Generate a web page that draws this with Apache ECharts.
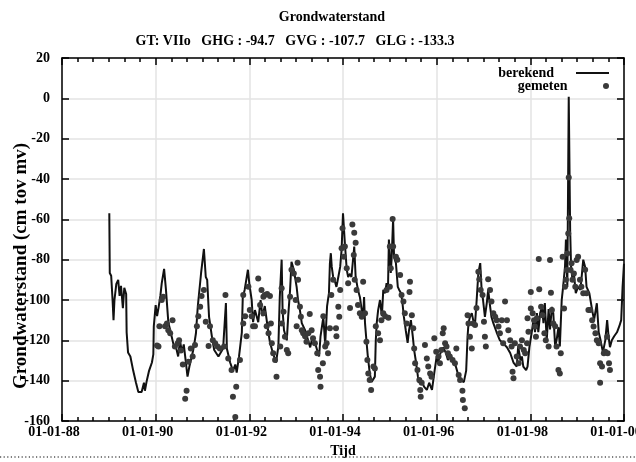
<!DOCTYPE html>
<html>
<head>
<meta charset="utf-8">
<script src="https://cdn.jsdelivr.net/npm/echarts@6/dist/echarts.min.js"></script>
<style>
html, body { margin: 0; padding: 0; background: #fff; }
#chart { width: 636px; height: 462px; }
</style>
</head>
<body>
<div id="chart"></div>
<script>
// berekend: tijd in decimale jaren, stand in cm tov mv
const berekendTijd = [
  1989.01, 1989.02, 1989.05, 1989.08, 1989.10, 1989.12, 1989.16, 1989.20, 1989.23, 1989.26,
  1989.30, 1989.33, 1989.37, 1989.38, 1989.41, 1989.46, 1989.52, 1989.58, 1989.63, 1989.70,
  1989.75, 1989.77, 1989.81, 1989.86, 1989.92, 1989.95, 1989.96, 1990.00, 1990.03, 1990.06,
  1990.10, 1990.13, 1990.18, 1990.22, 1990.27, 1990.34, 1990.38, 1990.43, 1990.48, 1990.52,
  1990.56, 1990.60, 1990.63, 1990.68, 1990.72, 1990.80, 1990.83, 1990.86, 1990.90, 1990.97,
  1991.03, 1991.07, 1991.10, 1991.14, 1991.20, 1991.25, 1991.34, 1991.44, 1991.50, 1991.52,
  1991.59, 1991.65, 1991.70, 1991.73, 1991.78, 1991.84, 1991.86, 1991.90, 1991.97, 1992.00,
  1992.05, 1992.08, 1992.12, 1992.19, 1992.24, 1992.28, 1992.33, 1992.40, 1992.44, 1992.50,
  1992.57, 1992.62, 1992.65, 1992.69, 1992.71, 1992.74, 1992.80, 1992.83, 1992.87, 1992.90,
  1992.95, 1993.01, 1993.04, 1993.08, 1993.12, 1993.19, 1993.23, 1993.30, 1993.35, 1993.40,
  1993.45, 1993.49, 1993.52, 1993.58, 1993.62, 1993.66, 1993.70, 1993.72, 1993.74, 1993.76,
  1993.79, 1993.83, 1993.86, 1993.90, 1993.94, 1993.97, 1994.00, 1994.04, 1994.08, 1994.11,
  1994.15, 1994.18, 1994.24, 1994.27, 1994.32, 1994.36, 1994.40, 1994.43, 1994.45, 1994.47,
  1994.50, 1994.53, 1994.57, 1994.61, 1994.64, 1994.68, 1994.70, 1994.72, 1994.75, 1994.79,
  1994.83, 1994.86, 1994.90, 1994.93, 1994.96, 1994.98, 1995.02, 1995.04, 1995.07, 1995.09,
  1995.13, 1995.17, 1995.20, 1995.24, 1995.27, 1995.30, 1995.34, 1995.38, 1995.41, 1995.45,
  1995.49, 1995.52, 1995.56, 1995.60, 1995.62, 1995.68, 1995.73, 1995.79, 1995.84, 1995.90,
  1995.95, 1996.00, 1996.03, 1996.08, 1996.14, 1996.20, 1996.24, 1996.30, 1996.35, 1996.41,
  1996.47, 1996.53, 1996.58, 1996.63, 1996.66, 1996.68, 1996.71, 1996.75, 1996.78, 1996.82,
  1996.85, 1996.89, 1996.93, 1996.96, 1996.99, 1997.03, 1997.07, 1997.10, 1997.14, 1997.17,
  1997.21, 1997.28, 1997.35, 1997.42, 1997.50, 1997.57, 1997.64, 1997.71, 1997.74, 1997.79,
  1997.82, 1997.85, 1997.91, 1997.94, 1997.98, 1998.03, 1998.07, 1998.10, 1998.14, 1998.17,
  1998.21, 1998.25, 1998.28, 1998.31, 1998.35, 1998.39, 1998.42, 1998.46, 1998.49, 1998.53,
  1998.56, 1998.60, 1998.63, 1998.67, 1998.70, 1998.74, 1998.76, 1998.79, 1998.82, 1998.85,
  1998.87, 1998.90, 1998.93, 1998.97, 1999.02, 1999.07, 1999.13, 1999.17, 1999.20, 1999.26,
  1999.32, 1999.36, 1999.42, 1999.46, 1999.50, 1999.55, 1999.60, 1999.64, 1999.67, 1999.70,
  1999.74, 1999.79, 1999.85, 1999.90, 1999.94, 1999.97, 2000.00
];
const berekendStand = [
  -57, -86.6, -88, -100, -110, -100, -92, -90, -98, -93,
  -104, -94, -97, -116, -126, -128, -135, -141, -145.6, -145.6,
  -141, -145, -140, -135, -131, -127, -113, -102.5, -108, -104,
  -98, -91.6, -84.6, -95, -111, -118, -122, -123, -128, -120,
  -126, -122, -128, -138, -133, -125, -121, -116.5, -103, -86.6,
  -74.7, -88.6, -90, -108.4, -118, -124.8, -128, -124, -101.5, -124,
  -131, -135, -132, -136, -128, -116, -98.5, -95, -85, -92,
  -100, -111, -105, -111, -100, -108, -103, -115, -121, -126,
  -131, -123, -98.5, -80, -105, -115, -120, -108, -95, -81,
  -85, -93.5, -100, -105, -111.5, -115, -118, -123.5, -118, -121,
  -125, -128, -118, -108.5, -122, -103, -96.6, -82, -76.8, -83.6,
  -88.6, -91, -93.5, -88.6, -83.6, -75, -57, -72, -85, -88.6,
  -87, -88.6, -73.5, -88.6, -95, -98.5, -105, -108, -98.5, -111.5,
  -120, -128, -136, -140.7, -140, -138, -120, -111.5, -105, -100,
  -108, -95, -96.6, -91.6, -95, -70, -86.6, -78.7, -60, -78.7,
  -81.7, -93.5, -95, -96.6, -101.5, -108.4, -115, -121.3, -115, -110,
  -118, -125, -131, -138, -141, -140, -143, -144.6, -141, -144.6,
  -136, -128, -131, -126.4, -123.5, -126.4, -129.7, -128, -129.7, -133,
  -138, -140, -140.7, -135, -118, -111.5, -108.4, -106.5, -110, -111.5,
  -101.5, -86.6, -81.7, -95, -100, -108.4, -101.5, -95, -103, -108.4,
  -111.5, -116, -120, -121.5, -123.4, -126.3, -131, -133, -123, -130,
  -128, -133, -134.8, -133, -123.4, -116, -109.5, -116, -106.5, -116,
  -106.5, -103.4, -111.5, -101.5, -120, -104.5, -114.6, -103.4, -106.5, -123,
  -120, -113.5, -123, -100, -93.5, -83.6, -70, -93.5, 0.8, -65,
  -83.6, -90, -86.6, -96.6, -93.5, -95, -80, -83.6, -93.5, -96.6,
  -105, -110, -101.6, -116, -120, -126, -120, -110, -118, -123.4,
  -120, -118, -116, -113, -110, -93.5, -82
];

// gemeten: tijd in decimale jaren, stand in cm tov mv
const gemetenTijd = [
  1990.03, 1990.06, 1990.08, 1990.13, 1990.16, 1990.20, 1990.24, 1990.27, 1990.31, 1990.36,
  1990.41, 1990.47, 1990.50, 1990.54, 1990.58, 1990.63, 1990.66, 1990.70, 1990.75, 1990.79,
  1990.84, 1990.88, 1990.91, 1990.95, 1990.98, 1991.03, 1991.07, 1991.13, 1991.16, 1991.22,
  1991.27, 1991.32, 1991.37, 1991.46, 1991.49, 1991.55, 1991.62, 1991.65, 1991.70, 1991.72,
  1991.80, 1991.87, 1991.87, 1991.91, 1991.94, 1991.98, 1992.01, 1992.05, 1992.08, 1992.12,
  1992.19, 1992.23, 1992.26, 1992.30, 1992.30, 1992.33, 1992.37, 1992.38, 1992.41, 1992.44,
  1992.46, 1992.48, 1992.51, 1992.55, 1992.58, 1992.66, 1992.69, 1992.69, 1992.73, 1992.76,
  1992.80, 1992.83, 1992.87, 1992.90, 1992.95, 1992.99, 1993.01, 1993.03, 1993.04, 1993.08,
  1993.10, 1993.12, 1993.15, 1993.19, 1993.22, 1993.26, 1993.29, 1993.33, 1993.36, 1993.40,
  1993.45, 1993.47, 1993.51, 1993.52, 1993.57, 1993.58, 1993.62, 1993.65, 1993.68, 1993.72,
  1993.75, 1993.79, 1993.85, 1993.86, 1993.90, 1993.92, 1993.94, 1993.97, 1993.99, 1994.02,
  1994.04, 1994.08, 1994.11, 1994.15, 1994.20, 1994.23, 1994.24, 1994.25, 1994.27, 1994.29,
  1994.32, 1994.36, 1994.40, 1994.43, 1994.47, 1994.50, 1994.52, 1994.54, 1994.57, 1994.60,
  1994.65, 1994.68, 1994.70, 1994.75, 1994.79, 1994.82, 1994.86, 1994.90, 1994.93, 1994.97,
  1995.00, 1995.00, 1995.02, 1995.06, 1995.07, 1995.13, 1995.16, 1995.22, 1995.25, 1995.29,
  1995.32, 1995.36, 1995.42, 1995.43, 1995.47, 1995.50, 1995.52, 1995.54, 1995.59, 1995.63,
  1995.65, 1995.66, 1995.68, 1995.75, 1995.79, 1995.82, 1995.86, 1995.89, 1995.95, 1995.99,
  1996.04, 1996.07, 1996.10, 1996.13, 1996.15, 1996.18, 1996.21, 1996.24, 1996.28, 1996.34,
  1996.39, 1996.42, 1996.47, 1996.50, 1996.55, 1996.56, 1996.60, 1996.66, 1996.68, 1996.71,
  1996.75, 1996.78, 1996.82, 1996.85, 1996.89, 1996.91, 1996.94, 1996.98, 1997.01, 1997.03,
  1997.05, 1997.10, 1997.14, 1997.17, 1997.21, 1997.25, 1997.28, 1997.32, 1997.35, 1997.39,
  1997.42, 1997.46, 1997.50, 1997.53, 1997.57, 1997.60, 1997.62, 1997.64, 1997.67, 1997.71,
  1997.75, 1997.78, 1997.82, 1997.86, 1997.89, 1997.93, 1997.94, 1997.96, 1998.01, 1998.01,
  1998.05, 1998.08, 1998.10, 1998.12, 1998.14, 1998.18, 1998.19, 1998.23, 1998.26, 1998.30,
  1998.33, 1998.39, 1998.42, 1998.44, 1998.46, 1998.49, 1998.53, 1998.56, 1998.60, 1998.63,
  1998.65, 1998.69, 1998.72, 1998.74, 1998.76, 1998.78, 1998.79, 1998.81, 1998.82, 1998.83,
  1998.86, 1998.88, 1998.90, 1998.93, 1998.96, 1998.99, 1999.02, 1999.06, 1999.09, 1999.13,
  1999.17, 1999.20, 1999.24, 1999.28, 1999.32, 1999.35, 1999.39, 1999.42, 1999.46, 1999.49,
  1999.49, 1999.53, 1999.57, 1999.60, 1999.64, 1999.65, 1999.68, 1999.70
];
const gemetenStand = [
  -122.6, -123, -113, -100, -98.4, -113, -111.6, -115, -116.5, -110,
  -123, -121.5, -120, -125, -132, -149, -145, -130.6, -124, -128,
  -122.3, -113, -108, -103.3, -98, -95, -110.8, -122.8, -113, -120,
  -121.5, -123, -124, -123, -97.5, -129, -134.7, -148, -158, -143,
  -129.8, -111.6, -97.5, -108, -118, -93.4, -105, -108, -113, -113,
  -89.3, -102.5, -95, -98.4, -106.6, -97.5, -113, -97, -116.5, -98,
  -111.6, -121.5, -126.4, -129.8, -138, -123, -94.2, -111.6, -105.8, -118.2,
  -124.8, -126.4, -98.4, -85, -86.8, -100, -113, -81.5, -90, -103.3,
  -108.3, -115, -116.5, -118, -120.7, -116.5, -107, -115, -119, -121.5,
  -126.4, -134.7, -138, -143, -131.4, -108, -123, -121.5, -126.4, -114,
  -97.5, -90, -114, -118, -103.3, -108.3, -95, -74.4, -64.4, -78.5,
  -73.5, -84.3, -91.7, -104, -62.5, -77.7, -66.6, -90, -71.6, -95,
  -102.5, -106.6, -108.3, -91, -106.6, -120.7, -129.8, -136.4, -139.7, -144.6,
  -133, -134, -113, -116.5, -120, -110, -106.6, -108, -95, -108.8,
  -93.4, -73.5, -84.3, -59.8, -73.5, -78.5, -80, -87.6, -97.5, -100.8,
  -106.6, -111.6, -96, -91, -107.5, -114, -124, -131.4, -134.7, -139.7,
  -144.6, -148, -141, -122.3, -129, -133, -136.4, -138, -119, -125.6,
  -128, -131.4, -124.8, -116.5, -114, -121.5, -123, -126.4, -128, -129.8,
  -131.4, -124, -137.2, -139.7, -145, -149.6, -153.7, -107.5, -111.6, -118.2,
  -124, -111.6, -112.4, -104, -86, -89.7, -95, -97.5, -110.8, -118.2,
  -123, -89.7, -95, -100.8, -106.6, -108.3, -110, -113.2, -116.5, -110,
  -121.5, -100.8, -110, -115, -120, -123, -135.6, -138.8, -121.5, -128,
  -131.4, -123, -120, -124.8, -126.4, -121.5, -109, -115.7, -96, -104.2,
  -106.6, -110, -113.2, -118.2, -109, -79.7, -94.7, -103.3, -107.5, -116.5,
  -120, -123, -80.2, -96.4, -105, -111.6, -113, -123, -134.7, -136.4,
  -126.4, -78.5, -104.2, -93.4, -90, -85.1, -76.9, -67, -39.3, -59.5,
  -85.1, -81.8, -90, -86.8, -93.4, -80.2, -78.5, -90, -93.4, -96.7,
  -85, -96.7, -105, -105, -110, -113.2, -116.5, -120, -121.5, -131.4,
  -141, -133, -126.4, -125.6, -118.2, -126.4, -131.4, -134.7
];

const jaarMin = 1988;
const jaarMax = 2000;
const standMin = -160;
const standMax = 20;

const serif = "'Liberation Serif', 'Times New Roman', serif";

function zip(xs, ys) {
    return xs.map(function (x, i) { return [x, ys[i]]; });
}

function datumLabel(v) {
    return '01-01-' + String(v).slice(2);
}

const axisLine = { show: true, onZero: false, lineStyle: { color: '#000', width: 1.5 } };
const axisTick = { inside: true, length: 7, lineStyle: { color: '#000', width: 1.5 } };
const minorTick = { show: true, splitNumber: 6, length: 4, lineStyle: { color: '#000', width: 1.5 } };
const splitLine = { show: true, lineStyle: { color: '#e3e3e3', width: 1.5 } };
const labelFont = { fontFamily: serif, fontWeight: 'bold', fontSize: 14, color: '#000' };
const legendText = { fontFamily: serif, fontWeight: 'bold', fontSize: 14, color: '#000',
                     width: 56, align: 'right', padding: [0, 17, 0, 0] };

const chart = echarts.init(document.querySelector('#chart'), null, { renderer: 'canvas' });

chart.setOption({
    animation: false,
    backgroundColor: '#fff',
    title: [{
        text: 'Grondwaterstand',
        left: 327,
        top: 5,
        textAlign: 'center',
        textStyle: { fontFamily: serif, fontWeight: 'bold', fontSize: 14, color: '#000' }
    }, {
        text: 'GT: VIIo   GHG : -94.7   GVG : -107.7   GLG : -133.3',
        left: 290,
        top: 29,
        textAlign: 'center',
        textStyle: { fontFamily: serif, fontWeight: 'bold', fontSize: 14, color: '#000' }
    }],
    legend: [{
        right: 22,
        top: 61,
        align: 'right',
        itemWidth: 33,
        itemHeight: 2,
        selectedMode: false,
        textStyle: legendText,
        data: [{ name: 'berekend', icon: 'rect', itemStyle: { color: '#111' } }]
    }, {
        right: 22,
        top: 74,
        align: 'right',
        itemWidth: 33,
        itemHeight: 6,
        selectedMode: false,
        textStyle: legendText,
        data: [{ name: 'gemeten', icon: 'circle', itemStyle: { color: '#3a3a3a' } }]
    }],
    grid: { left: 62, right: 12, top: 58, bottom: 41, outerBoundsMode: 'none' },
    xAxis: [{
        type: 'value',
        min: jaarMin,
        max: jaarMax,
        interval: 2,
        name: 'Tijd',
        nameLocation: 'middle',
        nameGap: 20,
        nameTextStyle: labelFont,
        axisLine: axisLine,
        axisTick: axisTick,
        minorTick: minorTick,
        axisLabel: Object.assign({ margin: 4, formatter: datumLabel, padding: [0, 16, 0, 0] }, labelFont),
        splitLine: splitLine
    }, {
        type: 'value',
        position: 'top',
        min: jaarMin,
        max: jaarMax,
        interval: 2,
        axisLine: axisLine,
        axisTick: axisTick,
        minorTick: minorTick,
        axisLabel: { show: false },
        splitLine: { show: false }
    }],
    yAxis: [{
        type: 'value',
        min: standMin,
        max: standMax,
        interval: 20,
        axisLine: axisLine,
        axisTick: axisTick,
        axisLabel: Object.assign({ margin: 12 }, labelFont),
        splitLine: splitLine
    }, {
        type: 'value',
        position: 'right',
        min: standMin,
        max: standMax,
        interval: 20,
        axisLine: axisLine,
        axisTick: axisTick,
        axisLabel: { show: false },
        splitLine: { show: false }
    }],
    graphic: [{
        type: 'text',
        x: 21,
        y: 266,
        rotation: Math.PI / 2,
        style: {
            text: 'Grondwaterstand (cm tov mv)',
            font: 'bold 19px ' + serif,
            fill: '#000',
            align: 'center',
            verticalAlign: 'middle'
        }
    }, {
        type: 'line',
        shape: { x1: 0, y1: 457, x2: 636, y2: 457 },
        style: { stroke: '#000', lineWidth: 1.2, lineDash: [1.2, 2.4] }
    }],
    series: [{
        name: 'berekend',
        type: 'line',
        data: zip(berekendTijd, berekendStand),
        symbol: 'none',
        lineStyle: { color: '#111', width: 2 },
        itemStyle: { color: '#111' },
        z: 2
    }, {
        name: 'gemeten',
        type: 'scatter',
        data: zip(gemetenTijd, gemetenStand),
        symbol: 'circle',
        symbolSize: 6,
        itemStyle: { color: '#3a3a3a', opacity: 1 },
        z: 3
    }]
});
</script>
</body>
</html>
